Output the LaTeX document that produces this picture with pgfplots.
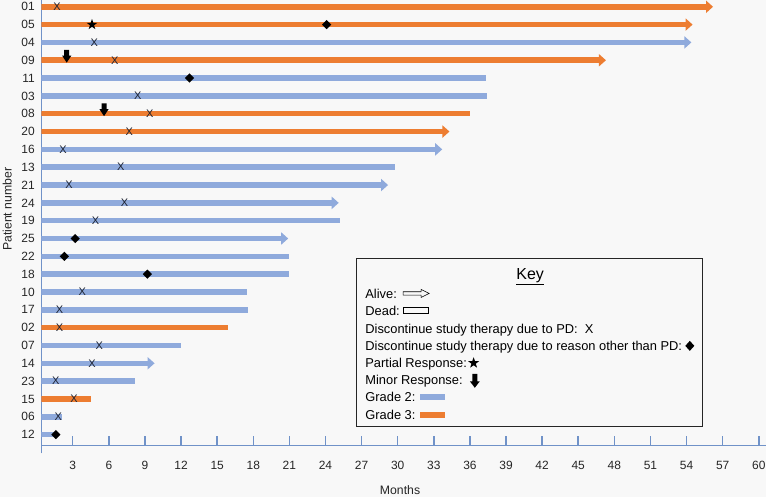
\documentclass[border=0pt]{standalone}
\usepackage{fontspec}
\setmainfont{Liberation Sans}
\usepackage{pgfplots}
\pgfplotsset{compat=1.18}
\usetikzlibrary{arrows.meta,backgrounds,plotmarks}

\definecolor{gtwo}{HTML}{8FAADC}
\definecolor{gthree}{HTML}{ED7D31}
\definecolor{axcol}{HTML}{7092C8}
\definecolor{bgcol}{HTML}{F8F8F8}
\definecolor{xcol}{HTML}{1E2433}

% marks used for the events
\pgfdeclareplotmark{dmd}{%
  \pgfpathmoveto{\pgfpoint{0bp}{4.6bp}}\pgfpathlineto{\pgfpoint{4.6bp}{0bp}}%
  \pgfpathlineto{\pgfpoint{0bp}{-4.6bp}}\pgfpathlineto{\pgfpoint{-4.6bp}{0bp}}%
  \pgfpathclose\pgfusepathqfill}
\pgfdeclareplotmark{fstar}{%
  \pgfpathmoveto{\pgfpointpolar{90}{5.6bp}}\pgfpathlineto{\pgfpointpolar{126}{2.2bp}}%
  \pgfpathlineto{\pgfpointpolar{162}{5.6bp}}\pgfpathlineto{\pgfpointpolar{198}{2.2bp}}%
  \pgfpathlineto{\pgfpointpolar{234}{5.6bp}}\pgfpathlineto{\pgfpointpolar{270}{2.2bp}}%
  \pgfpathlineto{\pgfpointpolar{306}{5.6bp}}\pgfpathlineto{\pgfpointpolar{342}{2.2bp}}%
  \pgfpathlineto{\pgfpointpolar{18}{5.6bp}}\pgfpathlineto{\pgfpointpolar{54}{2.2bp}}%
  \pgfpathclose\pgfusepathqfill}
\pgfdeclareplotmark{darr}{%
  \pgfpathmoveto{\pgfpoint{0bp}{-2.4bp}}\pgfpathlineto{\pgfpoint{4.6bp}{4.6bp}}%
  \pgfpathlineto{\pgfpoint{2.5bp}{4.6bp}}\pgfpathlineto{\pgfpoint{2.5bp}{10.4bp}}%
  \pgfpathlineto{\pgfpoint{-2.5bp}{10.4bp}}\pgfpathlineto{\pgfpoint{-2.5bp}{4.6bp}}%
  \pgfpathlineto{\pgfpoint{-4.6bp}{4.6bp}}\pgfpathclose\pgfusepathqfill}

\tikzset{
  g2/.style={color=gtwo, line width=5.5bp},
  g3/.style={color=gthree, line width=5.5bp},
  alive/.style={-{Triangle[length=7bp,width=12bp]}},
  keytxt/.style={anchor=base west, inner sep=0pt, font=\fontsize{12.9}{14}\selectfont},
}
% symbol after a key entry: scope starts at the end of the text, at mid height
\newcommand{\ksym}[3]{\begin{scope}[shift={(#1.base east)}, xshift=#2, yshift=4.6bp]#3\end{scope}}

\begin{document}
\begin{tikzpicture}
\begin{axis}[
    scale only axis,
    width=724.2bp, height=445bp,
    xmin=0.39, xmax=60.6, ymin=0.4, ymax=25.38,
    axis x line*=bottom, axis y line*=left,
    axis line style={axcol, line width=1.2bp},
    y axis line style={shorten <=-8bp},
    xtick={3,6,...,60},
    ytick={1,...,25},
    yticklabels={12,06,15,23,14,07,02,17,10,18,22,25,19,24,21,13,16,20,08,03,11,09,04,05,01},
    tick align=inside, major tick length=9bp,
    x tick style={axcol, line width=1.5bp},
    y tick style={draw=none},
    /pgf/number format/assume math mode=true,
    tick label style={font=\fontsize{12}{14}\selectfont, text=black!85},
    xticklabel style={yshift=-12bp},
    yticklabel style={xshift=-3bp},
    xlabel={Months}, ylabel={Patient number},
    label style={font=\fontsize{12.3}{14}\selectfont, text=black!85},
    xlabel style={at={(axis description cs:0.495,-0.101)}, anchor=center},
    ylabel style={at={(axis description cs:-0.047,0.53)}, anchor=center},
]
\coordinate (SW) at (rel axis cs:0,0);
\coordinate (NE) at (rel axis cs:1,1);
% key anchors
\coordinate (kb1) at (axis cs:26.6,10.88);
\coordinate (kb2) at (axis cs:55.3,1.47);
\coordinate (kt) at (axis cs:41.0,9.68);
\coordinate (k1) at (axis cs:27.3,8.66);
\coordinate (k2) at (axis cs:27.3,7.70);
\coordinate (k3) at (axis cs:27.3,6.69);
\coordinate (k4) at (axis cs:27.3,5.72);
\coordinate (k5) at (axis cs:27.3,4.76);
\coordinate (k6) at (axis cs:27.3,3.79);
\coordinate (k7) at (axis cs:27.3,2.84);
\coordinate (k8) at (axis cs:27.3,1.85);

% bars: start of therapy to last follow-up
\addplot[g3, alive] coordinates {(0.39,25) (56.2,25)}; % 01
\addplot[g3, alive] coordinates {(0.39,24) (54.5,24)}; % 05
\addplot[g2, alive] coordinates {(0.39,23) (54.4,23)}; % 04
\addplot[g3, alive] coordinates {(0.39,22) (47.3,22)}; % 09
\addplot[g2]        coordinates {(0.39,21) (37.3,21)}; % 11
\addplot[g2]        coordinates {(0.39,20) (37.4,20)}; % 03
\addplot[g3]        coordinates {(0.39,19) (36.0,19)}; % 08
\addplot[g3, alive] coordinates {(0.39,18) (34.3,18)}; % 20
\addplot[g2, alive] coordinates {(0.39,17) (33.7,17)}; % 16
\addplot[g2]        coordinates {(0.39,16) (29.8,16)}; % 13
\addplot[g2, alive] coordinates {(0.39,15) (29.2,15)}; % 21
\addplot[g2, alive] coordinates {(0.39,14) (25.1,14)}; % 24
\addplot[g2]        coordinates {(0.39,13) (25.2,13)}; % 19
\addplot[g2, alive] coordinates {(0.39,12) (20.9,12)}; % 25
\addplot[g2]        coordinates {(0.39,11) (21.0,11)}; % 22
\addplot[g2]        coordinates {(0.39,10) (21.0,10)}; % 18
\addplot[g2]        coordinates {(0.39,9) (17.5,9)};   % 10
\addplot[g2]        coordinates {(0.39,8) (17.6,8)};   % 17
\addplot[g3]        coordinates {(0.39,7) (15.9,7)};   % 02
\addplot[g2]        coordinates {(0.39,6) (12.0,6)};   % 07
\addplot[g2, alive] coordinates {(0.39,5) (9.8,5)};    % 14
\addplot[g2]        coordinates {(0.39,4) (8.2,4)};    % 23
\addplot[g3]        coordinates {(0.39,3) (4.5,3)};    % 15
\addplot[g2]        coordinates {(0.39,2) (2.1,2)};    % 06
\addplot[g2]        coordinates {(0.39,1) (1.6,1)};    % 12

% discontinued due to PD
\addplot[only marks, mark=text, text mark={X}, text mark as node=true,
  text mark style={font=\fontsize{11}{11}\selectfont, text=xcol, inner sep=0pt}]
  coordinates {(1.7,25) (4.8,23) (6.5,22) (8.4,20) (9.4,19) (7.7,18) (2.2,17)
    (7.0,16) (2.7,15) (7.3,14) (4.9,13) (3.8,9) (1.9,8) (1.9,7) (5.2,6)
    (4.6,5) (1.6,4) (3.1,3) (1.8,2)};
% discontinued for other reason
\addplot[only marks, mark=dmd, black]
  coordinates {(24.1,24) (12.7,21) (3.2,12) (2.3,11) (9.2,10) (1.6,1)};
% partial response
\addplot[only marks, mark=fstar, black] coordinates {(4.6,24)};
% minor response
\addplot[only marks, mark=darr, black] coordinates {(2.5,22) (5.6,19)};
\end{axis}

% key
\draw[black!85, line width=0.9bp] (kb1) rectangle (kb2);
\node[anchor=base, font=\fontsize{16}{16}\selectfont, inner sep=0pt] at (kt) {\underline{Key}};
\node[keytxt] (n1) at (k1) {Alive:};
\ksym{n1}{6bp}{\draw[line width=0.6bp] (0,-1.7bp) -- (18bp,-1.7bp) -- (18bp,-4bp) -- (26bp,0) -- (18bp,4bp) -- (18bp,1.7bp) -- (0,1.7bp) -- cycle;}
\node[keytxt] (n2) at (k2) {Dead:};
\ksym{n2}{3bp}{\draw[line width=0.6bp] (0,-3bp) rectangle (25bp,3bp);}
\node[keytxt] (n3) at (k3) {Discontinue study therapy due to PD:\ \ X};
\node[keytxt] (n4) at (k4) {Discontinue study therapy due to reason other than PD:};
\ksym{n4}{3bp}{\fill (4.5bp,5bp) -- (9bp,0) -- (4.5bp,-5bp) -- (0,0) -- cycle;}
\node[keytxt] (n5) at (k5) {Partial Response:};
\ksym{n5}{6.5bp}{\fill (90:5.8bp) -- (126:2.3bp) -- (162:5.8bp) -- (198:2.3bp) -- (234:5.8bp) -- (270:2.3bp) -- (306:5.8bp) -- (342:2.3bp) -- (18:5.8bp) -- (54:2.3bp) -- cycle;}
\node[keytxt] (n6) at (k6) {Minor Response:};
\ksym{n6}{7bp}{\fill (5bp,-7.5bp) -- (10bp,-1bp) -- (7.5bp,-1bp) -- (7.5bp,6.5bp) -- (2.5bp,6.5bp) -- (2.5bp,-1bp) -- (0,-1bp) -- cycle;}
\node[keytxt] (n7) at (k7) {Grade 2:};
\ksym{n7}{4bp}{\fill[gtwo] (0,-3.2bp) rectangle (25bp,3.2bp);}
\node[keytxt] (n8) at (k8) {Grade 3:};
\ksym{n8}{4bp}{\fill[gthree] (0,-3.2bp) rectangle (25bp,3.2bp);}

\pgfresetboundingbox
\path[use as bounding box] ([shift={(-41.3bp,-52bp)}]SW) rectangle (NE);
\begin{scope}[on background layer]
\fill[bgcol] ([shift={(-41.3bp,-52bp)}]SW) rectangle (NE);
\end{scope}
\end{tikzpicture}
\end{document}
